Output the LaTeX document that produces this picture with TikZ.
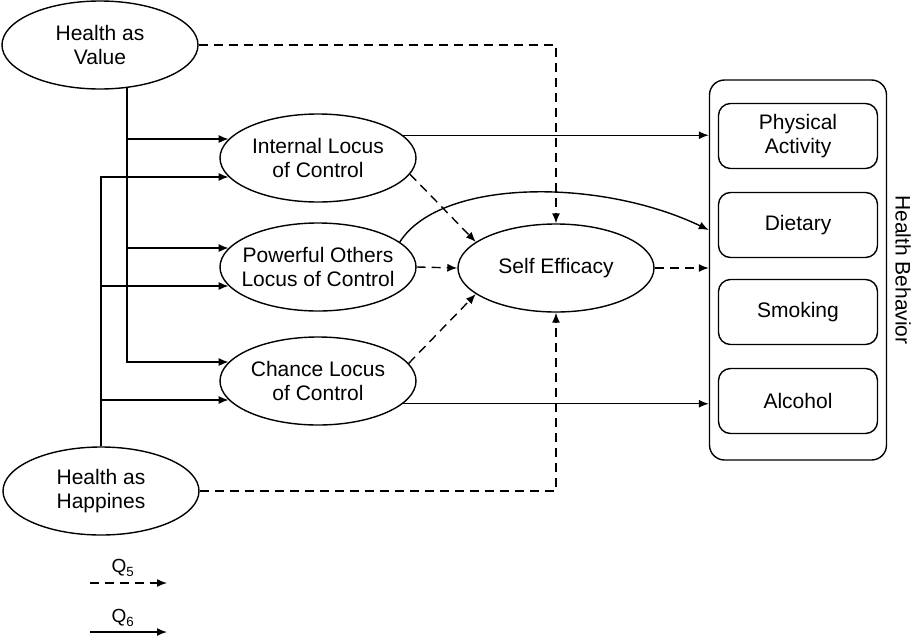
\documentclass[tikz,border=0pt]{standalone}
\usepackage{fontspec}
\setmainfont{Liberation Sans}
\usetikzlibrary{shapes.geometric,arrows.meta}
\tikzset{
  latent/.style={draw, ellipse, line width=1.4pt, minimum width=196pt, minimum height=88pt,
    inner xsep=-12pt, inner ysep=0pt, align=center, font=\fontsize{21}{24}\selectfont},
  itembox/.style={draw, rounded corners=12pt, line width=1.4pt, minimum width=159pt, minimum height=65pt,
    align=center, font=\fontsize{21}{24}\selectfont},
  solidarr/.style={line width=1.4pt, -{Latex[length=10pt,width=8pt]}},
  dasharr/.style={solidarr, dash pattern=on 9pt off 6pt}
}

\begin{document}
\begin{tikzpicture}[x=1pt,y=-1pt]
  \useasboundingbox (0,0) rectangle (918,640);
  % latent variables
  \node[latent] (hv) at (100,45) {Health as\\Value};
  \node[latent] (hh) at (101,491) {Health as\\Happines};
  \node[latent] (ilc) at (318,158) {Internal Locus\\of Control};
  \node[latent] (polc) at (318,267) {Powerful Others\\Locus of Control};
  \node[latent] (clc) at (318,381) {Chance Locus\\of Control};
  \node[latent] (se) at (556,268) {Self Efficacy};
  % health behavior
  \node[draw, rounded corners=15pt, line width=1.4pt, minimum width=177pt, minimum height=380pt] (hb) at (798,270) {};
  \node[itembox] (pa) at (798,136) {Physical\\Activity};
  \node[itembox] (diet) at (798,225) {Dietary};
  \node[itembox] (smok) at (798,312) {Smoking};
  \node[itembox] (alc) at (798,401) {Alcohol};
  \node[rotate=-90, font=\fontsize{21}{24}\selectfont] (hblabel) at (903,270) {Health Behavior};

  % Q6 paths
  \foreach \lvar in {ilc,polc,clc}{
    \draw[solidarr] (hv.302) |- (\lvar.168);
    \draw[solidarr] (hh.north) |- (\lvar.192);
  }
  \draw[solidarr] (ilc.15) -- (ilc.15 -| hb.west);
  \draw[solidarr] (clc.-15) -- (clc.-15 -| hb.west);
  \draw[solidarr] (polc.17) .. controls +(41,-64) and +(-108,-52) .. ([yshift=-5pt]diet.west -| hb.west);
  % Q5 paths
  \draw[dasharr] (hv.east) -| (se.north);
  \draw[dasharr] (hh.east) -| (se.south);
  \draw[dasharr] (ilc.-10) -- (se.162);
  \draw[dasharr] (polc.east) -- (se.west);
  \draw[dasharr] (clc.11) -- (se.198);
  \draw[dasharr] (se.east) -- (se.east -| hb.west);

  % legend
  \node[font=\fontsize{19}{20}\selectfont] (qfive) at (123,568) {Q\textsubscript{5}};
  \node[font=\fontsize{19}{20}\selectfont] (qsix) at (123,618) {Q\textsubscript{6}};
  \coordinate (qfives) at (90,583);
  \coordinate (qfivee) at (167,583);
  \coordinate (qsixs) at (90,632);
  \coordinate (qsixe) at (167,632);
  \draw[dasharr] (qfives) -- (qfivee);
  \draw[solidarr] (qsixs) -- (qsixe);
\end{tikzpicture}
\end{document}
